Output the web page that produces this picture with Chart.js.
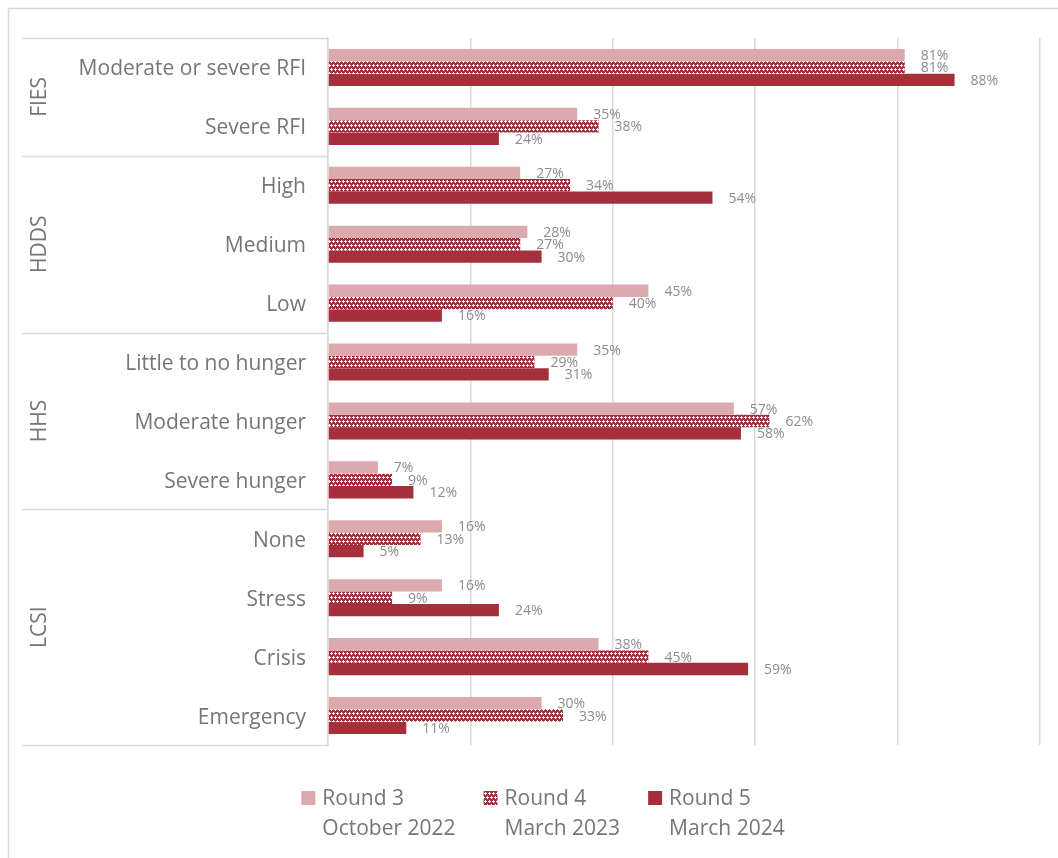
<!DOCTYPE html>
<html>
<head>
<meta charset="utf-8">
<script src="https://cdn.jsdelivr.net/npm/chart.js@4.4.1/dist/chart.umd.min.js"></script>
<style>
  html, body { margin: 0; padding: 0; background: #ffffff; }
  #wrap { width: 1058px; height: 858px; position: relative; }
</style>
</head>
<body>
<div id="wrap"><canvas id="c" width="1058" height="858"></canvas></div>
<script>
// Indicator categories, grouped by measurement scale
const categories = ['Moderate or severe RFI', 'Severe RFI', 'High', 'Medium', 'Low',
  'Little to no hunger', 'Moderate hunger', 'Severe hunger', 'None', 'Stress', 'Crisis', 'Emergency'];
const groupNames = ['FIES', 'HDDS', 'HHS', 'LCSI'];
const groupSizes = [2, 3, 3, 4];

// Share of households (%) per survey round
const round3 = [81, 35, 27, 28, 45, 35, 57, 7, 16, 16, 38, 30];
const round4 = [81, 38, 34, 27, 40, 29, 62, 9, 13, 9, 45, 33];
const round5 = [88, 24, 54, 30, 16, 31, 58, 12, 5, 24, 59, 11];

const seriesNames = [['Round 3', 'October 2022'], ['Round 4', 'March 2023'], ['Round 5', 'March 2024']];
const xTickValues = [0, 20, 40, 60, 80, 100];

const FONT = '"Open Sans", "Noto Sans", sans-serif';
const TEXT = '#767676';
const LABEL = '#8c8c8c';
const LINE = '#d9d9d9';
const LIGHT = '#dcaaae';
const DARK = '#a5303c';

// Small checker-cross fill for the middle series
function makePattern() {
  const t = document.createElement('canvas');
  t.width = 8; t.height = 8;
  const g = t.getContext('2d');
  g.fillStyle = DARK;
  g.fillRect(0, 0, 8, 8);
  g.fillStyle = '#ffffff';
  const centres = [[1, 1], [5, 1], [3, 5], [7, 5]];
  centres.forEach(([cx, cy]) => {
    [[0, 0], [1, 0], [-1, 0], [0, 1], [0, -1]].forEach(([dx, dy]) => {
      g.fillRect((cx + dx + 8) % 8, (cy + dy + 8) % 8, 1, 1);
    });
  });
  return g.createPattern(t, 'repeat');
}
const crossFill = makePattern();

const frameAndLabels = {
  id: 'frameAndLabels',
  afterDatasetsDraw(chart) {
    const ctx = chart.ctx;
    ctx.save();
    ctx.font = '14px ' + FONT;
    ctx.fillStyle = LABEL;
    ctx.textAlign = 'left';
    ctx.textBaseline = 'middle';
    chart.data.datasets.forEach((ds, i) => {
      chart.getDatasetMeta(i).data.forEach((el, j) => {
        ctx.fillText(ds.data[j] + '%', el.x + 16, el.y + 1);
      });
    });
    ctx.restore();
  },
  afterDraw(chart) {
    const ctx = chart.ctx;
    const area = chart.chartArea;
    const ys = chart.scales.y;
    ctx.save();

    // outer frame
    ctx.strokeStyle = LINE;
    ctx.lineWidth = 1.5;
    ctx.strokeRect(8.5, 8.5, 1100, 1000);

    // group separators and group titles
    const bounds = [area.top];
    let idx = 0;
    groupSizes.forEach((n) => {
      idx += n;
      if (idx < categories.length) {
        bounds.push((ys.getPixelForValue(idx - 1) + ys.getPixelForValue(idx)) / 2);
      } else {
        bounds.push(area.bottom);
      }
    });
    ctx.beginPath();
    bounds.forEach((b) => {
      const y = Math.round(b) + 0.5;
      ctx.moveTo(22, y);
      ctx.lineTo(area.left, y);
    });
    ctx.stroke();

    ctx.font = '21px ' + FONT;
    ctx.fillStyle = TEXT;
    ctx.textAlign = 'center';
    ctx.textBaseline = 'middle';
    groupNames.forEach((name, g) => {
      const cy = (bounds[g] + bounds[g + 1]) / 2;
      ctx.save();
      ctx.translate(40, cy);
      ctx.rotate(-Math.PI / 2);
      ctx.fillText(name, 0, 0);
      ctx.restore();
    });

    // legend with two-line entries
    ctx.font = '21px ' + FONT;
    ctx.textAlign = 'left';
    const box = 14, boxGap = 7, itemGap = 28;
    const widths = seriesNames.map((pair) => Math.max(...pair.map((s) => ctx.measureText(s).width)));
    const total = widths.reduce((a, w) => a + box + boxGap + w, 0) + itemGap * (widths.length - 1);
    let x = 543 - total / 2;
    chart.data.datasets.forEach((ds, i) => {
      ctx.fillStyle = ds.backgroundColor;
      ctx.fillRect(x, 791, box, box);
      ctx.fillStyle = TEXT;
      ctx.fillText(seriesNames[i][0], x + box + boxGap, 799);
      ctx.fillText(seriesNames[i][1], x + box + boxGap, 829);
      x += box + boxGap + widths[i] + itemGap;
    });
    ctx.restore();
  }
};

new Chart(document.getElementById('c'), {
  type: 'bar',
  data: {
    labels: categories,
    datasets: [
      { label: seriesNames[0].join(' '), data: round3, backgroundColor: LIGHT },
      { label: seriesNames[1].join(' '), data: round4, backgroundColor: crossFill },
      { label: seriesNames[2].join(' '), data: round5, backgroundColor: DARK }
    ]
  },
  options: {
    indexAxis: 'y',
    responsive: false,
    animation: false,
    devicePixelRatio: 1,
    layout: { padding: { left: 8, top: 38, right: 18, bottom: 113 } },
    datasets: { bar: { categoryPercentage: 0.63, barPercentage: 1.0 } },
    plugins: { legend: { display: false }, tooltip: { enabled: false } },
    scales: {
      x: {
        min: 0, max: 100,
        afterBuildTicks: (s) => { s.ticks = xTickValues.map((v) => ({ value: v })); },
        ticks: { display: false },
        grid: { color: LINE, lineWidth: 1.5, drawTicks: false },
        border: { display: false },
        afterFit: (s) => { s.height = 0; }
      },
      y: {
        ticks: { color: TEXT, font: { family: FONT, size: 21 }, padding: 22, labelOffset: 2 },
        grid: { display: false, drawTicks: false },
        border: { display: true, color: LINE, width: 1.5 },
        afterFit: (s) => { s.width = 320; }
      }
    }
  },
  plugins: [frameAndLabels]
});
</script>
</body>
</html>
